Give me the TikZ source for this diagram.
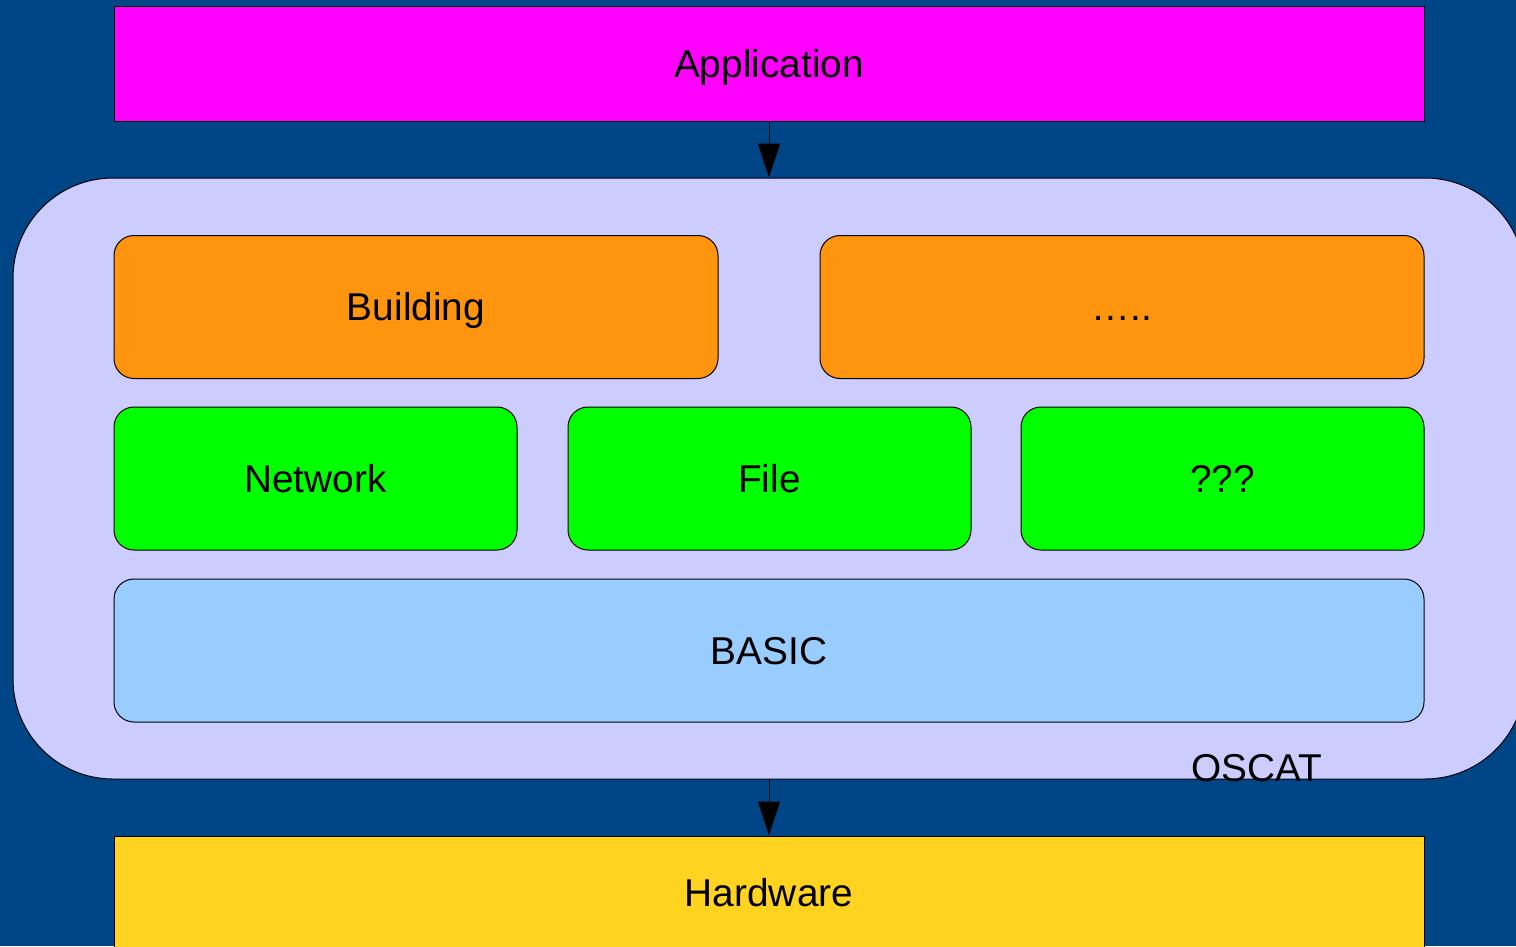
\documentclass[tikz,border=0pt]{standalone}
\usepackage{fontspec}
\setmainfont{Liberation Sans}
\usetikzlibrary{arrows.meta}

\definecolor{fundo}{HTML}{004586}
\definecolor{rosa}{HTML}{FF00FF}
\definecolor{lilas}{HTML}{CCCCFF}
\definecolor{laranja}{HTML}{FF950E}
\definecolor{verde}{HTML}{00FF00}
\definecolor{azulclaro}{HTML}{99CCFF}
\definecolor{amarelo}{HTML}{FFD320}

\begin{document}
\begin{tikzpicture}[x=1pt,y=-1pt,
  camada/.style={draw=black,line width=1pt,inner sep=0pt,
    font=\fontsize{38.8}{44}\selectfont,text height=27.5pt,text depth=0pt},
  bloco/.style={camada,rounded corners=20pt,minimum height=143pt},
  seta/.style={line width=1pt,-{Triangle[length=34pt,width=22pt]}}]

% fundo
\fill[fundo] (0,0) rectangle (1516,946);
\useasboundingbox (0,0) rectangle (1516,946);

% camadas de fora
\node[camada,fill=rosa,minimum width=1310pt,minimum height=115pt] (app) at (769,63.5) {Application};
\node[camada,fill=lilas,rounded corners=100pt,minimum width=1512pt,minimum height=601pt] (oscat) at (769,478.5) {};
\node[camada,fill=amarelo,minimum width=1310pt,minimum height=114pt] (hw) at (769,893) {Hardware};

% blocos da biblioteca
\node[bloco,fill=laranja,minimum width=604pt] (building) at (416,307) {Building};
\node[bloco,fill=laranja,minimum width=604pt] (etc) at (1122,307) {…..};

\node[bloco,fill=verde,minimum width=403pt] (network) at (315.5,478.5) {Network};
\node[bloco,fill=verde,minimum width=403pt] (file) at (769.5,478.5) {File};
\node[bloco,fill=verde,minimum width=403pt] (other) at (1222.5,478.5) {???};

\node[bloco,fill=azulclaro,minimum width=1310pt] (basic) at (769,650.5) {BASIC};

\node[camada,draw=none,anchor=base] (oscatlabel) at (1257,781) {OSCAT};

% setas
\draw[seta] (app) -- (oscat);
\draw[seta] (oscat) -- (hw);

\end{tikzpicture}
\end{document}
